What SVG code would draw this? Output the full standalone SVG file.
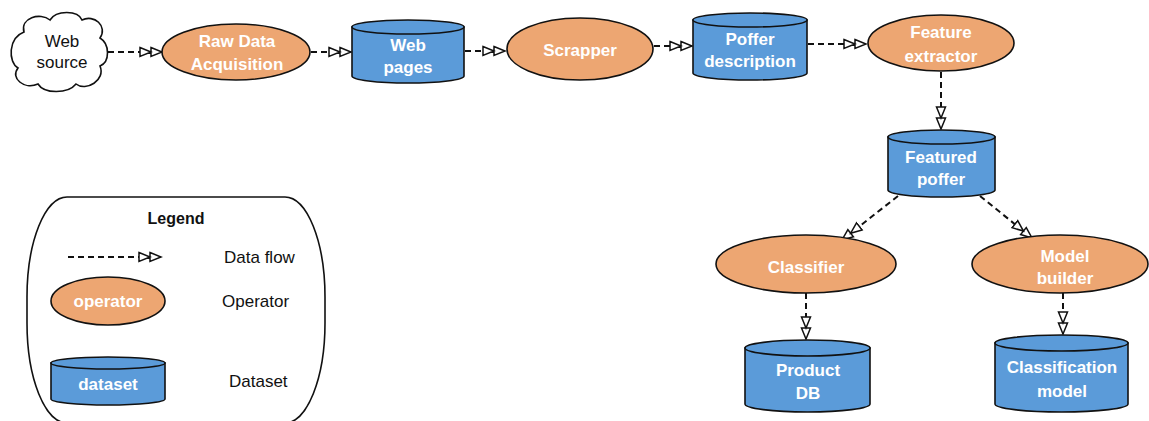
<svg xmlns="http://www.w3.org/2000/svg" width="1149" height="421" viewBox="0 0 1149 421">
<style>
.op{fill:#EDA672;stroke:#111;stroke-width:1.6}
.ds{fill:#5B9BD9;stroke:#111;stroke-width:1.6}
.cl{fill:#fff;stroke:#111;stroke-width:1.6}
.wt{font-family:"Liberation Sans",Arial,sans-serif;font-weight:bold;font-size:17px;fill:#fff;text-anchor:middle}
.bt{font-family:"Liberation Sans",Arial,sans-serif;font-size:17px;fill:#111;text-anchor:middle}
.lt{font-family:"Liberation Sans",Arial,sans-serif;font-size:17px;fill:#111}
.flow{fill:none;stroke:#111;stroke-width:2;stroke-dasharray:6,4;marker-end:url(#dbl)}
</style>
<defs>
<marker id="dbl" markerUnits="userSpaceOnUse" markerWidth="26" markerHeight="14" refX="23" refY="6" orient="auto" viewBox="0 0 26 14">
<path d="M1,1.5 L12,6 L1,10.5 Z M12,1.5 L23,6 L12,10.5 Z" fill="#fff" stroke="#111" stroke-width="1.5" stroke-linejoin="miter"/>
</marker>
</defs>
<rect width="1149" height="421" fill="#fff"/>

<g id="connectors">
<path class="flow" d="M108,52 L162,52"/>
<path class="flow" d="M311,52 L351,52"/>
<path class="flow" d="M465,51 L505,51"/>
<path class="flow" d="M654,46 L692,46"/>
<path class="flow" d="M808,44 L866,44"/>
<path class="flow" d="M941,72 L941,129"/>
<path class="flow" d="M898,196 L842,240"/>
<path class="flow" d="M980,196 L1032,238"/>
<path class="flow" d="M806,293 L806,339"/>
<path class="flow" d="M1063,293 L1063,334"/>
</g>

<g id="web-source">
<path class="cl" d="M24,32 C20,18 40,12 50,20 C56,10 78,10 82,20 C94,14 108,26 100,38 C110,44 110,62 100,66 C106,80 86,92 76,84 C68,94 44,94 38,84 C24,90 10,78 18,68 C8,62 8,38 24,32 Z"/>
<text class="bt" x="62" y="47">Web</text>
<text class="bt" x="62" y="68">source</text>
</g>

<g id="raw-data-acquisition">
<ellipse class="op" cx="236" cy="52" rx="74" ry="28"/>
<text class="wt" x="237" y="47">Raw Data</text>
<text class="wt" x="237" y="70">Acquisition</text>
</g>

<g id="web-pages">
<path class="ds" d="M352,27 L352,76 A56,7 0 0 0 464,76 L464,27 Z"/>
<ellipse class="ds" cx="408" cy="27" rx="56" ry="7"/>
<text class="wt" x="408" y="51">Web</text>
<text class="wt" x="408" y="73">pages</text>
</g>

<g id="scrapper">
<ellipse class="op" cx="580" cy="49" rx="73" ry="31"/>
<text class="wt" x="580" y="56">Scrapper</text>
</g>

<g id="poffer-description">
<path class="ds" d="M693,20 L693,73 A57,7 0 0 0 807,73 L807,20 Z"/>
<ellipse class="ds" cx="750" cy="20" rx="57" ry="7"/>
<text class="wt" x="750" y="45">Poffer</text>
<text class="wt" x="750" y="67">description</text>
</g>

<g id="feature-extractor">
<ellipse class="op" cx="941" cy="43" rx="73" ry="28"/>
<text class="wt" x="941" y="38">Feature</text>
<text class="wt" x="941" y="62">extractor</text>
</g>

<g id="featured-poffer">
<path class="ds" d="M888,137 L888,190 A53.5,7 0 0 0 995,190 L995,137 Z"/>
<ellipse class="ds" cx="941.5" cy="137" rx="53.5" ry="7"/>
<text class="wt" x="941" y="163">Featured</text>
<text class="wt" x="941" y="185">poffer</text>
</g>

<g id="classifier">
<ellipse class="op" cx="806" cy="264" rx="90" ry="29"/>
<text class="wt" x="806" y="273">Classifier</text>
</g>

<g id="model-builder">
<ellipse class="op" cx="1060" cy="264" rx="88" ry="29"/>
<text class="wt" x="1065" y="262">Model</text>
<text class="wt" x="1065" y="284">builder</text>
</g>

<g id="product-db">
<path class="ds" d="M745,348 L745,404 A62.5,8 0 0 0 870,404 L870,348 Z"/>
<ellipse class="ds" cx="807.5" cy="348" rx="62.5" ry="8"/>
<text class="wt" x="808" y="376">Product</text>
<text class="wt" x="808" y="399">DB</text>
</g>

<g id="classification-model">
<path class="ds" d="M995,343 L995,404 A66.5,8 0 0 0 1128,404 L1128,343 Z"/>
<ellipse class="ds" cx="1061.5" cy="343" rx="66.5" ry="8"/>
<text class="wt" x="1062" y="373">Classification</text>
<text class="wt" x="1062" y="397">model</text>
</g>

<g id="legend">
<rect x="27" y="197" width="298" height="226" rx="40" ry="100" fill="#fff" stroke="#111" stroke-width="1.6"/>
<text class="bt" x="176" y="224" style="font-weight:bold;font-size:16px">Legend</text>
<path class="flow" d="M68,257 L161,257"/>
<text class="lt" x="224" y="263">Data flow</text>
<ellipse class="op" cx="108" cy="301" rx="57" ry="24"/>
<text class="wt" x="108" y="307">operator</text>
<text class="lt" x="222" y="307">Operator</text>
<path class="ds" d="M51,363 L51,399 A57,6 0 0 0 165,399 L165,363 Z"/>
<ellipse class="ds" cx="108" cy="363" rx="57" ry="6"/>
<text class="wt" x="108" y="390">dataset</text>
<text class="lt" x="229" y="387">Dataset</text>
</g>
</svg>
